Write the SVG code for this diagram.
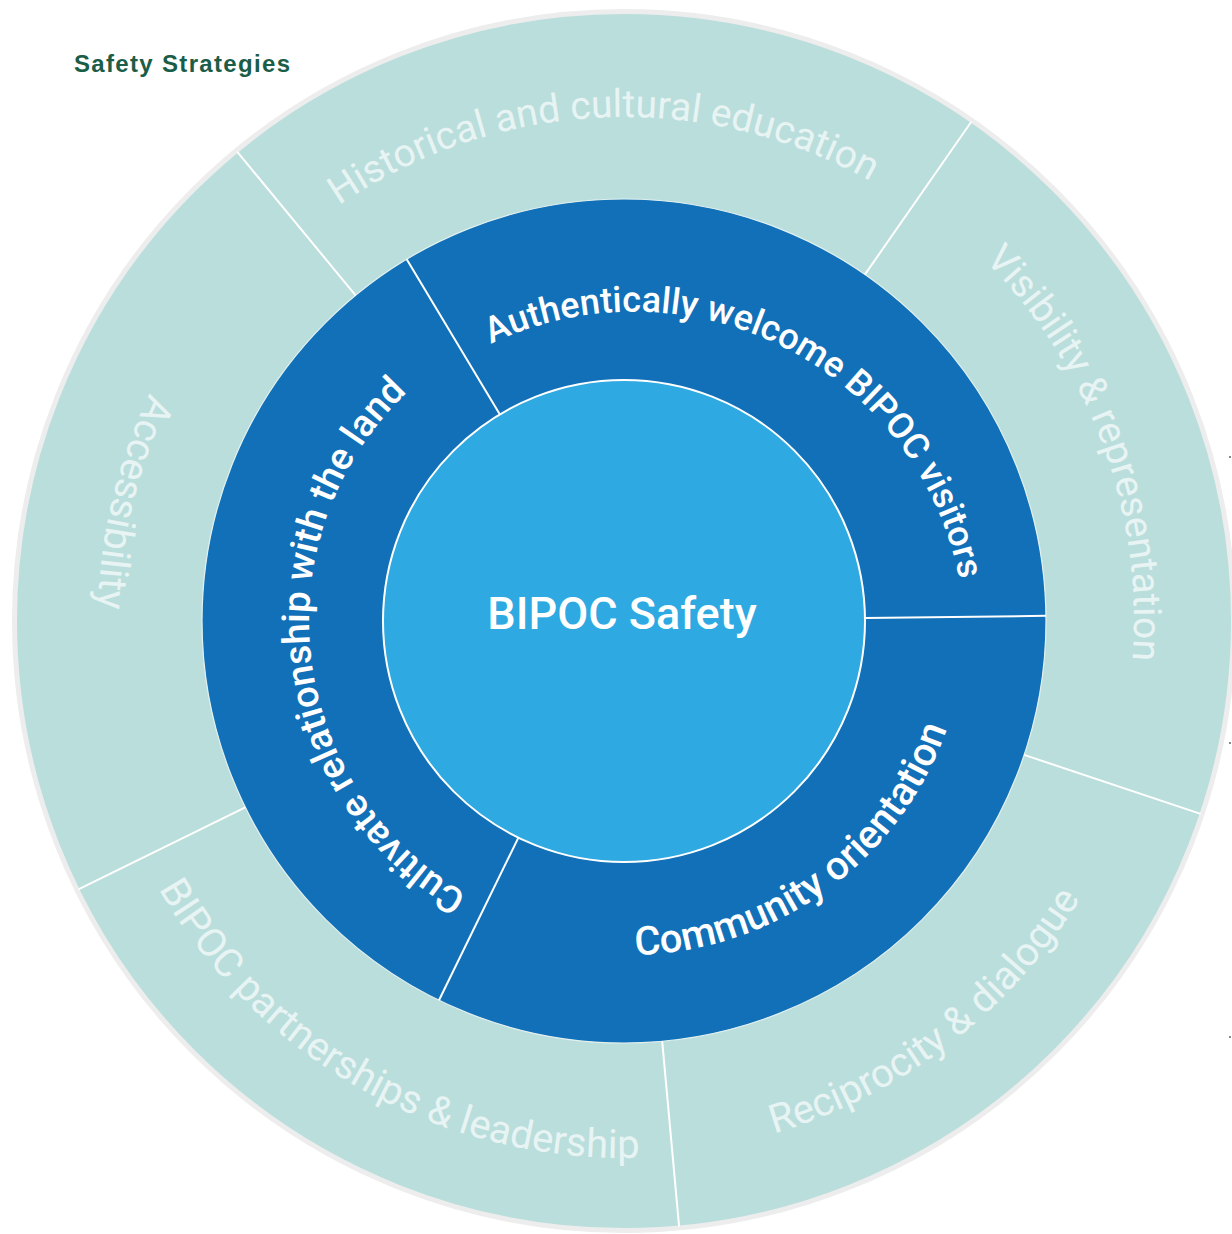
<svg xmlns="http://www.w3.org/2000/svg" xmlns:xlink="http://www.w3.org/1999/xlink" width="1232" height="1234" viewBox="0 0 1232 1234">
  <style>
    .outer-txt { font-family: Roboto, "Liberation Sans", sans-serif; font-size: 39px; font-weight: 400; fill: #e8f4f3; }
    .outer-txt-b { font-family: Roboto, "Liberation Sans", sans-serif; font-size: 40px; font-weight: 400; fill: #e8f4f3; }
    .mid-txt { font-family: Roboto, "Liberation Sans", sans-serif; font-weight: 500; fill: #ffffff; }
    .divider { stroke: #ffffff; stroke-width: 2; fill: none; }
  </style>
  <defs>
    <path id="p-hist" d="M124.20,556.08 A504,504 0 0 1 1115.86,511.06"/>
    <path id="p-vis" d="M532.81,119.22 A510,510 0 0 1 881.31,1061.33"/>
    <path id="p-rec" d="M263.23,1014.71 A534,534 0 0 0 1097.66,374.43"/>
    <path id="p-bipoc" d="M116.87,444.40 A537,537 0 0 0 1040.14,960.40"/>
    <path id="p-acc" d="M656.11,95.98 A526,526 0 0 0 414.26,1103.37"/>
    <path id="p-auth" d="M367.56,445.12 A332,332 0 0 1 951.70,739.00"/>
    <path id="p-comm" d="M393.20,860.14 A338,338 0 0 0 931.79,468.83"/>
    <path id="p-cult" d="M606.42,935.51 A315,315 0 0 1 532.96,319.44"/>
  </defs>
  <rect width="1232" height="1234" fill="#ffffff"/>

  <g id="title">
    <text x="74" y="72" font-family="'Liberation Sans', Arial, sans-serif" font-size="24" font-weight="700" fill="#1a5d48" textLength="216" lengthAdjust="spacing">Safety Strategies</text>
  </g>

  <g id="outer-ring">
    <circle cx="624" cy="621" r="609.5" fill="#badedc" stroke="#ededed" stroke-width="5"/>
  </g>
  <g id="middle-ring">
    <circle cx="624" cy="621" r="422" fill="#1170b8" stroke="#e2f1f0" stroke-width="1.2"/>
  </g>

  <g id="connectors">
    <line class="divider" x1="355.6" y1="295.4" x2="237.3" y2="151.9"/>
    <line class="divider" x1="865.0" y1="274.4" x2="971.3" y2="121.8"/>
    <line class="divider" x1="1024.2" y1="754.9" x2="1200.6" y2="813.9"/>
    <line class="divider" x1="662.2" y1="1041.3" x2="679.1" y2="1226.5"/>
    <line class="divider" x1="245.3" y1="807.3" x2="78.4" y2="889.4"/>
    <line class="divider" x1="499.9" y1="414.4" x2="406.7" y2="259.3"/>
    <line class="divider" x1="865.0" y1="618.1" x2="1046.0" y2="615.8"/>
    <line class="divider" x1="518.4" y1="837.6" x2="439.0" y2="1000.3"/>
  </g>

  <g id="node-historical">
    <text class="outer-txt" text-anchor="middle"><textPath xlink:href="#p-hist" href="#p-hist" startOffset="50%">Historical and cultural education</textPath></text>
  </g>
  <g id="node-visibility">
    <text class="outer-txt" text-anchor="middle"><textPath xlink:href="#p-vis" href="#p-vis" startOffset="50%">Visibility &amp; representation</textPath></text>
  </g>
  <g id="node-reciprocity">
    <text class="outer-txt-b" text-anchor="middle"><textPath xlink:href="#p-rec" href="#p-rec" startOffset="50%">Reciprocity &amp; dialogue</textPath></text>
  </g>
  <g id="node-partnerships">
    <text class="outer-txt-b" text-anchor="middle"><textPath xlink:href="#p-bipoc" href="#p-bipoc" startOffset="50%">BIPOC partnerships &amp; leadership</textPath></text>
  </g>
  <g id="node-accessibility">
    <text class="outer-txt-b" text-anchor="middle"><textPath xlink:href="#p-acc" href="#p-acc" startOffset="50%">Accessibility</textPath></text>
  </g>

  <g id="node-authentically">
    <text class="mid-txt" font-size="36" text-anchor="middle"><textPath xlink:href="#p-auth" href="#p-auth" startOffset="50%">Authentically welcome BIPOC visitors</textPath></text>
  </g>
  <g id="node-community">
    <text class="mid-txt" font-size="40" text-anchor="middle"><textPath xlink:href="#p-comm" href="#p-comm" startOffset="50%">Community orientation</textPath></text>
  </g>
  <g id="node-cultivate">
    <text class="mid-txt" font-size="38" text-anchor="middle"><textPath xlink:href="#p-cult" href="#p-cult" startOffset="50%">Cultivate relationship with the land</textPath></text>
  </g>

  <g id="node-center">
    <circle cx="624" cy="621" r="241" fill="#2ea9e1" stroke="#ffffff" stroke-width="2"/>
    <text x="622" y="629" text-anchor="middle" font-family="Roboto, 'Liberation Sans', sans-serif" font-size="45" font-weight="500" fill="#ffffff">BIPOC Safety</text>
  </g>

  <g id="edge-marks" fill="#8a8a8a">
    <rect x="1229" y="456" width="2" height="2"/>
    <rect x="1229" y="742" width="2" height="2"/>
    <rect x="1229" y="1036" width="2" height="2"/>
  </g>
</svg>
